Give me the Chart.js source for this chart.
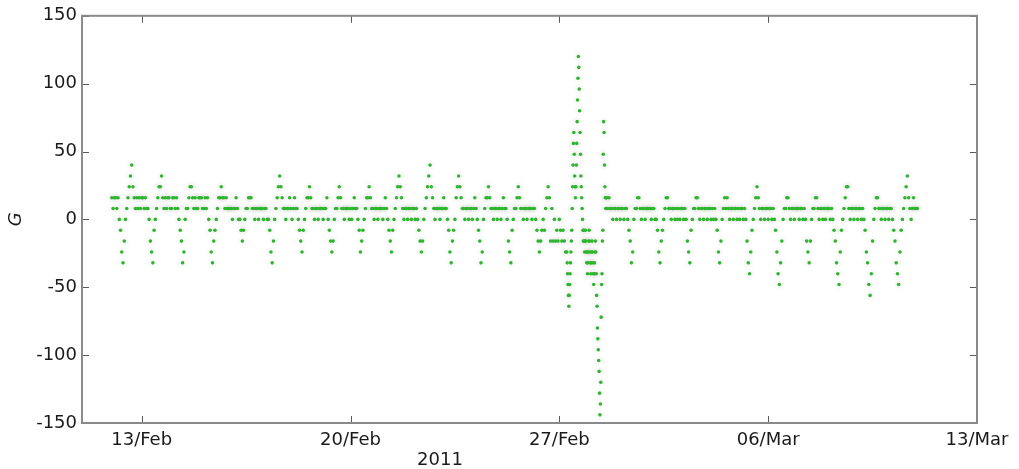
<!DOCTYPE html>
<html>
<head>
<meta charset="utf-8">
<title>G 2011</title>
<script src="https://cdn.jsdelivr.net/npm/chart.js@4.4.1/dist/chart.umd.min.js"></script>
<style>
    html, body { margin: 0; padding: 0; background: #ffffff; }
    #chart { display: block; }
</style>
</head>
<body>
<canvas id="chart" width="1019" height="469"></canvas>
<script>
// x is measured in days counted from 31 Jan 2011 00:00, so 13 = 13/Feb, 34 = 06/Mar
const xMin = 11;
const xMax = 41;
const tickDays = [13, 20, 27, 34, 41];
const tickLabels = ['13/Feb', '20/Feb', '27/Feb', '06/Mar', '13/Mar'];
const yTicks = [-150, -100, -50, 0, 50, 100, 150];

// hourly G from 12/Feb 00:00 to 27/Feb 05:00 (one row per day)
const beforeStart = 12;
const gBefore = [
    16, 8, 16, 16, 8, 16, 0, -8, -24, -32, -16, 0, 8, 16, 24, 32, 40, 24, 16, 8, 16, 8, 16, 8,
    16, 16, 8, 16, 8, 8, 0, -16, -24, -32, -8, 0, 8, 16, 24, 24, 32, 16, 8, 16, 8, 16, 16, 8,
    8, 16, 16, 8, 16, 8, 0, -8, -16, -32, -24, 0, 8, 8, 16, 24, 24, 16, 8, 16, 8, 8, 16, 16,
    16, 8, 8, 16, 8, 16, 0, -8, -24, -32, -16, -8, 0, 8, 16, 16, 24, 16, 16, 8, 16, 8, 8, 8,
    8, 0, 8, 8, 16, 8, 0, 0, -8, -16, -8, 0, 8, 8, 16, 16, 16, 8, 8, 0, 8, 8, 0, 8,
    8, 8, 0, 8, 8, 0, 0, -8, -24, -32, -16, 0, 8, 16, 24, 32, 24, 16, 8, 8, 0, 8, 8, 16,
    8, 0, 8, 16, 8, 8, 0, -8, -16, -24, -8, 0, 8, 16, 16, 24, 16, 8, 8, 0, 8, 8, 0, 8,
    8, 8, 0, 8, 8, 16, 0, -8, -16, -24, -16, 0, 8, 8, 16, 24, 16, 8, 8, 0, 8, 8, 8, 0,
    8, 0, 8, 16, 8, 8, 0, -8, -24, -16, -8, 0, 8, 16, 16, 24, 16, 8, 8, 0, 8, 8, 0, 8,
    8, 8, 0, 8, 16, 8, 0, -8, -16, -24, -8, 0, 8, 16, 24, 32, 24, 16, 8, 0, 8, 8, 0, 8,
    8, 0, 8, 8, 0, 8, 0, -8, -16, -24, -16, 0, 8, 16, 24, 32, 40, 24, 16, 8, 0, 8, 8, 8,
    0, 8, 8, 16, 8, 8, 0, -8, -24, -32, -16, -8, 0, 16, 24, 32, 24, 16, 8, 8, 0, 8, 8, 0,
    8, 8, 0, 8, 16, 8, 0, -8, -16, -32, -24, 0, 8, 16, 16, 24, 16, 8, 8, 0, 8, 8, 0, 8,
    8, 0, 8, 16, 8, 8, 0, -16, -24, -32, -8, 0, 8, 8, 16, 24, 16, 8, 8, 0, 8, 8, 0, 8,
    8, 8, 0, 8, 8, 0, -8, -16, -24, -16, -8, 0, -8, 8, 16, 24, 16, -16, 8, -16, 0, -16, -8, -16,
    0, -8, -16, -8, -16, -24
];

// storm of 27-28/Feb, every 20 minutes from 27/Feb 06:00 to 28/Feb 13:40
const stormStart = 27.25;
const gStorm = [
    -24, -32, -40, -48, -56, -64, -56, -48, -40, -32, -24, -16,
    -8, 8, 24, 40, 56, 64, 48, 32, 24, 16, 24, 40,
    56, 72, 88, 104, 120, 112, 96, 80, 64, 48, 32, 24,
    16, 8, 0, -8, -16, -8, -16, -24, -16, -8, -16, -24,
    -32, -24, -40, -32, -24, -16,
    -8, -16, -24, -32, -40, -32, -24, -16, -24, -32, -40, -48,
    -40, -32, -24, -16, -24, -40,
    -56, -64, -80, -88, -96, -104, -112, -128, -144, -136, -120, -72,
    -48, -40, -16, -8, 48, 72, 64, 40, 24, 16, 8, 16
];

// hourly G from 28/Feb 14:00 to 11/Mar 00:00
const afterStart = 28 + 14 / 24;
const gAfter = [
    16, 8, 16, 8, 8, 0, 8, 8, 0, 8,
    8, 0, 8, 8, 0, 8, 8, 0, -8, -16, -32, -24, 0, 8, 8, 16, 16, 8, 0, 8, 8, 0, 8, 8,
    8, 8, 0, 8, 8, 0, 0, -8, -24, -32, -16, -8, 0, 8, 16, 16, 8, 8, 0, 8, 8, 0, 8, 0,
    8, 0, 8, 8, 0, 8, 0, -16, -24, -32, -8, 0, 8, 8, 16, 16, 8, 0, 8, 8, 0, 8, 8, 0,
    8, 8, 0, 8, 0, 8, 0, -8, -24, -32, -16, 0, 8, 16, 8, 16, 8, 0, 8, 8, 0, 8, 8, 0,
    8, 0, 8, 8, 0, 8, 0, -16, -32, -40, -24, -8, 0, 8, 16, 24, 16, 8, 0, 8, 8, 0, 8, 8,
    0, 8, 8, 0, 8, 0, -8, -24, -40, -48, -32, -16, 0, 8, 8, 16, 16, 8, 0, 8, 8, 0, 8, 8,
    8, 0, 8, 8, 0, 8, 0, -16, -24, -32, -16, 0, 8, 8, 16, 16, 8, 0, 8, 8, 0, 8, 0, 8,
    8, 8, 0, 8, 0, -8, -16, -32, -40, -48, -24, -8, 0, 8, 16, 24, 24, 8, 0, 8, 8, 0, 8, 8,
    0, 8, 8, 0, 8, 0, -8, -24, -32, -48, -56, -40, -16, 0, 8, 16, 16, 8, 8, 0, 8, 8, 0, 8,
    8, 0, 8, 8, 0, -8, -16, -32, -40, -48, -24, -8, 0, 8, 16, 24, 32, 16, 8, 0, 8, 16, 8, 8,
    8
];

function toPoints(start, stepDays, values) {
    return values.map((v, i) => ({ x: start + i * stepDays, y: v }));
}

const points = []
    .concat(toPoints(beforeStart, 1 / 24, gBefore))
    .concat(toPoints(stormStart, 1 / 72, gStorm))
    .concat(toPoints(afterStart, 1 / 24, gAfter));

const fontFamily = 'DejaVu Sans, Verdana, sans-serif';
const labelFont = { family: fontFamily, size: 18 };

// axes box with inward ticks, plus the axis titles
const boxPlugin = {
    id: 'box',
    afterDraw(chart) {
        const ctx = chart.ctx;
        const a = chart.chartArea;
        const xs = chart.scales.x;
        const ys = chart.scales.y;
        const len = 7;
        ctx.save();
        ctx.strokeStyle = '#5a5a5a';
        ctx.lineWidth = 1;
        ctx.beginPath();
        tickDays.forEach(d => {
            const px = Math.round(xs.getPixelForValue(d)) + 0.5;
            ctx.moveTo(px, a.bottom); ctx.lineTo(px, a.bottom - len);
            ctx.moveTo(px, a.top); ctx.lineTo(px, a.top + len);
        });
        yTicks.forEach(v => {
            const py = Math.round(ys.getPixelForValue(v)) + 0.5;
            ctx.moveTo(a.left, py); ctx.lineTo(a.left + len, py);
            ctx.moveTo(a.right, py); ctx.lineTo(a.right - len, py);
        });
        ctx.stroke();

        ctx.strokeStyle = '#8a8a8a';
        ctx.lineWidth = 2;
        ctx.strokeRect(a.left, a.top, a.right - a.left, a.bottom - a.top);

        ctx.fillStyle = '#1a1a1a';
        ctx.font = '18px ' + fontFamily;
        ctx.textAlign = 'center';
        ctx.textBaseline = 'middle';
        ctx.fillText('2011', xs.getPixelForValue(23), 460);

        ctx.translate(16, ys.getPixelForValue(0));
        ctx.rotate(-Math.PI / 2);
        ctx.font = 'italic 18px ' + fontFamily;
        ctx.fillText('G', 0, 0);
        ctx.restore();
    }
};

new Chart(document.getElementById('chart'), {
    type: 'scatter',
    data: {
        datasets: [{
            label: 'G',
            data: points,
            pointStyle: 'circle',
            pointRadius: 1.8,
            pointBackgroundColor: '#2fb52f',
            pointBorderWidth: 0,
            showLine: false
        }, {
            // faint grey halo behind the markers
            label: 'halo',
            data: points,
            pointStyle: 'circle',
            pointRadius: 5,
            pointBackgroundColor: 'rgba(0, 0, 0, 0.02)',
            pointBorderWidth: 0,
            showLine: false
        }]
    },
    options: {
        responsive: false,
        animation: false,
        devicePixelRatio: 1,
        layout: { padding: { left: 0, top: 15, right: 42, bottom: 0 } },
        plugins: {
            legend: { display: false },
            tooltip: { enabled: false }
        },
        scales: {
            x: {
                type: 'linear',
                min: xMin,
                max: xMax,
                grid: { display: false, drawTicks: false },
                border: { display: false },
                afterBuildTicks: scale => {
                    scale.ticks = tickDays.map(d => ({ value: d }));
                },
                afterFit: scale => { scale.height = 46; },
                ticks: {
                    font: labelFont,
                    color: '#1a1a1a',
                    padding: 7,
                    maxRotation: 0,
                    autoSkip: false,
                    callback: (value, index) => tickLabels[index]
                }
            },
            y: {
                min: -150,
                max: 150,
                grid: { display: false, drawTicks: false },
                border: { display: false },
                afterBuildTicks: scale => {
                    scale.ticks = yTicks.map(v => ({ value: v }));
                },
                afterFit: scale => { scale.width = 82; },
                ticks: {
                    font: labelFont,
                    color: '#1a1a1a',
                    padding: 5
                }
            }
        }
    },
    plugins: [boxPlugin]
});
</script>
</body>
</html>
